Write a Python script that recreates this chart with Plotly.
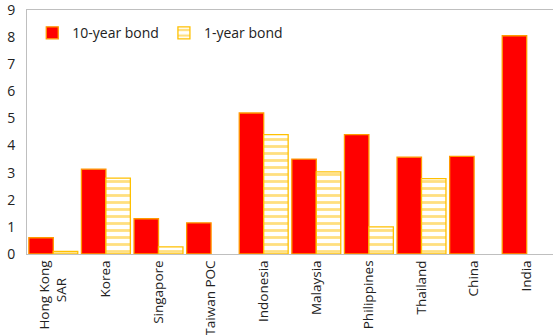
import plotly.graph_objects as go

categories = ["Hong Kong<br>SAR\u00a0\u00a0\u00a0\u00a0\u00a0", "Korea", "Singapore", "Taiwan POC", "Indonesia",
              "Malaysia", "Philippines", "Thailand", "China", "India"]
ten_year = [0.6, 3.13, 1.3, 1.15, 5.2, 3.5, 4.4, 3.57, 3.6, 8.05]
one_year = [0.1, 2.8, 0.26, None, 4.4, 3.03, 1.0, 2.78, None, None]
y_ticks = [0, 1, 2, 3, 4, 5, 6, 7, 8, 9]

fig = go.Figure()
fig.add_trace(go.Bar(
    x=categories, y=ten_year, name="10-year bond",
    marker=dict(color="#FF0000", line=dict(color="#FF9900", width=1.3)),
))
fig.add_trace(go.Bar(
    x=categories, y=one_year, name="1-year bond",
    marker=dict(color="white", line=dict(color="#FFC000", width=1.3),
                pattern=dict(shape="-", fgcolor="#FFC000", bgcolor="white",
                             size=7, solidity=0.4)),
))

fig.update_layout(
    width=553, height=335,
    margin=dict(l=27, r=0, t=10, b=81),
    paper_bgcolor="white", plot_bgcolor="white",
    barmode="group", bargap=0.07, bargroupgap=0,
    font=dict(family="Open Sans, Noto Sans, sans-serif", color="#222222", size=13),
    showlegend=True,
    legend=dict(orientation="h", x=0.01, y=0.905, xanchor="left", yanchor="middle",
                bgcolor="rgba(0,0,0,0)", font=dict(size=14),
                itemwidth=30, traceorder="normal"),
)
fig.update_xaxes(
    tickangle=-90, tickfont=dict(size=13.5), showline=True, linecolor="#BFBFBF",
    linewidth=1, mirror=True, ticks="", showgrid=False, automargin=False,
    ticklabeloverflow="allow",
)
fig.update_yaxes(
    range=[0, 9], tickvals=y_ticks, showline=True, linecolor="#BFBFBF", linewidth=1,
    mirror=True, ticks="", showgrid=False, zeroline=False, tickfont=dict(size=14),
    automargin=False, ticklabeloverflow="allow", ticklabelstandoff=8,
)

fig.write_html("out.html", config={"displayModeBar": False},
               post_script="document.body.style.margin='0';")
